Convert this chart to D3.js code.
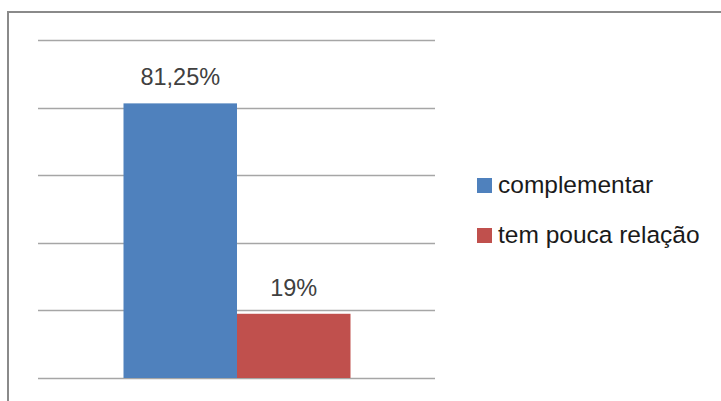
<!DOCTYPE html>
<html><head><meta charset="utf-8">
<script src="https://cdn.jsdelivr.net/npm/d3@7"></script>
<style>html,body{margin:0;padding:0;background:#fff;overflow:hidden}</style>
</head><body>
<svg id="c" width="721" height="401"></svg>
<script>
const categories = ["complementar", "tem pouca relação"];
const values = [81.25, 19];
const valueLabels = ["81,25%", "19%"];
const colors = ["#4F81BD", "#C0504D"];
const gridTicks = [0, 20, 40, 60, 80, 100];

const svg = d3.select("#c");
const font = "Liberation Sans, Arial, sans-serif";

// outer frame
svg.append("rect").attr("x", 8).attr("y", 12).attr("width", 760).attr("height", 420)
  .attr("fill", "#fff").attr("stroke", "#8a8a8a").attr("stroke-width", 2);

const x = d3.scaleBand().domain(categories).range([123.5, 350.5]).paddingInner(0).paddingOuter(0);
const y = d3.scaleLinear().domain([0, 100]).range([378, 40]);

svg.append("g").selectAll("line").data(gridTicks).join("line")
  .attr("x1", 38).attr("x2", 435)
  .attr("y1", d => Math.round(y(d)) + 0.5).attr("y2", d => Math.round(y(d)) + 0.5)
  .attr("stroke", "#a6a6a6").attr("stroke-width", 1.3);

svg.append("g").selectAll("rect").data(values).join("rect")
  .attr("x", (d, i) => x(categories[i]))
  .attr("width", x.bandwidth())
  .attr("y", d => y(d))
  .attr("height", d => y(0) - y(d))
  .attr("fill", (d, i) => colors[i]);

svg.append("g").selectAll("text").data(values).join("text")
  .attr("x", (d, i) => x(categories[i]) + x.bandwidth() / 2)
  .attr("y", d => y(d) - 18)
  .attr("text-anchor", "middle")
  .attr("font-family", font).attr("font-size", 23.5).attr("fill", "#404040")
  .text((d, i) => valueLabels[i]);

const leg = svg.append("g");
categories.forEach((c, i) => {
  const yy = 178 + i * 50;
  leg.append("rect").attr("x", 477).attr("y", yy).attr("width", 15).attr("height", 15).attr("fill", colors[i]);
  leg.append("text").attr("x", 498).attr("y", yy + 15).attr("font-family", font).attr("font-size", 24.5)
    .attr("fill", "#1a1a1a").text(c);
});
</script>
</body></html>
